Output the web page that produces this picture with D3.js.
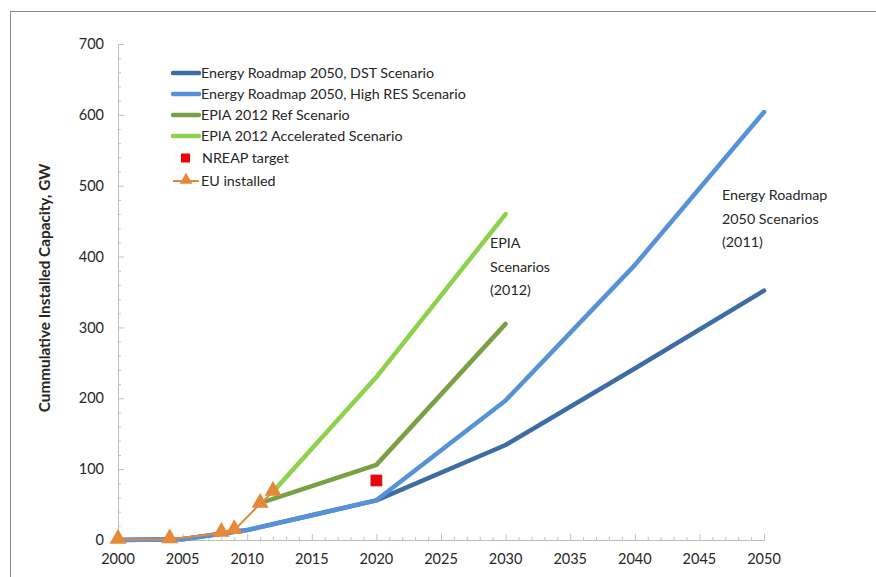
<!DOCTYPE html>
<html><head><meta charset="utf-8">
<script src="https://cdn.jsdelivr.net/npm/d3@7"></script>
<style>
html,body{margin:0;padding:0;background:#fff;}
svg text{font-family:Lato,"Open Sans",sans-serif;fill:#262626;}
</style></head>
<body>
<svg id="c" width="876" height="577"></svg>
<script>
// ---- data ----
const roadmapYears = [2000, 2005, 2010, 2015, 2020, 2030, 2040, 2050];
const dstValues     = [0, 1, 14, 35, 56, 134, 242, 352];
const highResValues = [0, 1, 14, 35, 56, 197, 388, 604];
const epiaRefYears = [2011, 2020, 2030];
const epiaRefValues = [52, 106, 305];
const epiaAccYears = [2012, 2020, 2030];
const epiaAccValues = [68, 230, 460];
const nreapYears = [2020];
const nreapValues = [84];
const euYears  = [2000, 2004, 2008, 2009, 2011, 2012];
const euValues = [0.2, 1, 10, 14, 51, 68];
const yTicks = [0, 100, 200, 300, 400, 500, 600, 700];
const xTicks = [2000, 2005, 2010, 2015, 2020, 2025, 2030, 2035, 2040, 2045, 2050];
const seriesNames = ["Energy Roadmap 2050, DST Scenario", "Energy Roadmap 2050, High RES Scenario",
  "EPIA 2012 Ref Scenario", "EPIA 2012 Accelerated Scenario", "NREAP target", "EU installed"];
const colors = ["#3E6DA6", "#5592DA", "#79A042", "#8ED14C", "#F00000", "#E5883A"];

const svg = d3.select("#c");
// outer frame
svg.append("rect").attr("x", 10.5).attr("y", 11.5).attr("width", 900).attr("height", 600)
  .attr("fill", "none").attr("stroke", "#8c8c8c").attr("stroke-width", 1);

const x = d3.scaleLinear().domain([2000, 2050]).range([118, 764]);
const y = d3.scaleLinear().domain([0, 700]).range([540, 44]);

// y axis
const gy = svg.append("g").attr("transform", "translate(118,0)");
gy.call(d3.axisRight(y).tickValues(d3.range(0, 701, 20)).tickSize(4).tickFormat(""));
gy.select(".domain").attr("stroke", "#BFBFBF");
gy.selectAll(".tick line").attr("stroke", "#BFBFBF").attr("x2", d => d % 100 === 0 ? 6 : 3);
svg.append("g").selectAll("text").data(yTicks).join("text")
  .attr("x", 104).attr("y", d => y(d)).attr("dy", "0.35em").attr("text-anchor", "end")
  .style("font-size", "14.5px").text(d => d);

// x axis
const gx = svg.append("g").attr("transform", "translate(0,540)");
gx.call(d3.axisTop(x).tickValues(d3.range(2000, 2051, 1)).tickSize(4).tickFormat(""));
gx.select(".domain").attr("stroke", "#BFBFBF");
gx.selectAll(".tick line").attr("stroke", "#BFBFBF").attr("y2", d => d % 5 === 0 ? -6 : -3);
svg.append("g").selectAll("text").data(xTicks).join("text")
  .attr("x", d => x(d)).attr("y", 564).attr("text-anchor", "middle")
  .style("font-size", "14.5px").text(d => d);

// axis title
svg.append("text").attr("transform", "translate(50,288) rotate(-90)").attr("text-anchor", "middle")
  .style("font-size", "15.3px").style("font-weight", "bold").text("Cummulative Installed Capacity, GW");

const line = d3.line().x(d => x(d[0])).y(d => y(d[1]));
const zip = (a, b) => a.map((v, i) => [v, b[i]]);

const lines = [
  [zip(roadmapYears, dstValues), colors[0]],
  [zip(roadmapYears, highResValues), colors[1]],
  [zip(epiaRefYears, epiaRefValues), colors[2]],
  [zip(epiaAccYears, epiaAccValues), colors[3]],
];
lines.forEach(([d, c]) => {
  svg.append("path").datum(d).attr("d", line).attr("fill", "none").attr("stroke", c)
    .attr("stroke-width", 4.5).attr("stroke-linejoin", "round").attr("stroke-linecap", "round");
});

// NREAP target
svg.append("g").selectAll("rect").data(zip(nreapYears, nreapValues)).join("rect")
  .attr("x", d => x(d[0]) - 5.5).attr("y", d => y(d[1]) - 5.5).attr("width", 11).attr("height", 11)
  .attr("fill", colors[4]).attr("stroke", "#B03030").attr("stroke-width", 0.8);

// EU installed
const eu = zip(euYears, euValues);
svg.append("path").datum(eu).attr("d", line).attr("fill", "none").attr("stroke", colors[5]).attr("stroke-width", 2);
const tri = d3.symbol().type(d3.symbolTriangle).size(125);
svg.append("g").selectAll("path").data(eu).join("path")
  .attr("transform", d => `translate(${x(d[0])},${y(d[1]) - 1})`).attr("d", tri).attr("fill", colors[5]);

// legend
const lg = svg.append("g");
const rowsY = [73, 94, 115, 136, 158, 181];
seriesNames.forEach((name, i) => {
  const yy = rowsY[i];
  if (i < 4) {
    lg.append("line").attr("x1", 173).attr("x2", 199).attr("y1", yy).attr("y2", yy)
      .attr("stroke", colors[i]).attr("stroke-width", 4.5).attr("stroke-linecap", "round");
  } else if (i === 4) {
    lg.append("rect").attr("x", 181).attr("y", yy - 4.5).attr("width", 9).attr("height", 9).attr("fill", colors[4]);
  } else {
    lg.append("line").attr("x1", 173).attr("x2", 199).attr("y1", yy).attr("y2", yy)
      .attr("stroke", colors[5]).attr("stroke-width", 2);
    lg.append("path").attr("transform", `translate(186,${yy - 1})`).attr("d", d3.symbol().type(d3.symbolTriangle).size(70)).attr("fill", colors[5]);
  }
  lg.append("text").attr("x", i === 4 ? 202 : 201).attr("y", yy).attr("dy", "0.35em")
    .style("font-size", "14.3px").text(name);
});

// annotations
const ann = [
  [490, 248, ["EPIA", "Scenarios", "(2012)"]],
  [722, 200, ["Energy Roadmap", "2050 Scenarios", "(2011)"]],
];
ann.forEach(([ax, ay, ls]) => {
  const t = svg.append("text").attr("x", ax).attr("y", ay).style("font-size", "14.3px");
  ls.forEach((s, i) => t.append("tspan").attr("x", ax).attr("dy", i === 0 ? 0 : 23.5).text(s));
});
</script>
</body></html>
